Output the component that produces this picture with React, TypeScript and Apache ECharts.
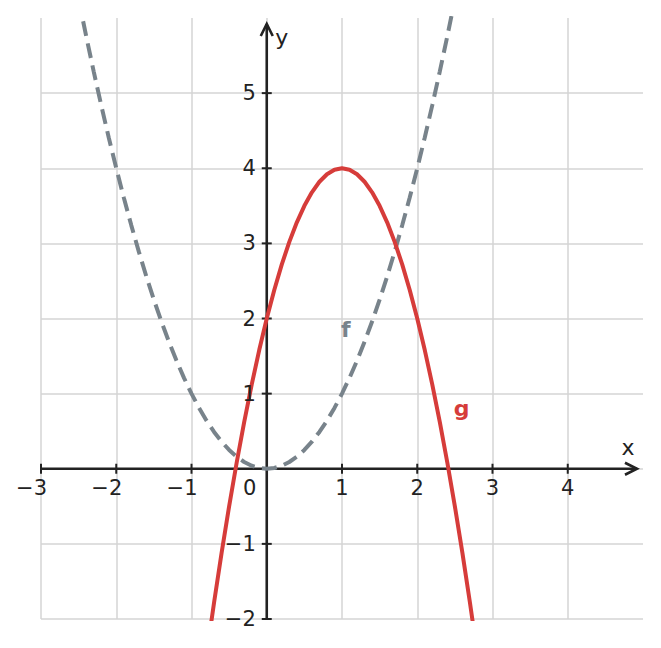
import React, { useEffect, useRef } from "react";
import * as echarts from "echarts";

// ---- data ----
const X_TICKS = [-3, -2, -1, 0, 1, 2, 3, 4];
const X_TICK_LABELS = ["−3", "−2", "−1", "0", "1", "2", "3", "4"];
const Y_TICKS = [-2, -1, 1, 2, 3, 4, 5];
const Y_TICK_LABELS = ["−2", "−1", "1", "2", "3", "4", "5"];

// f: dashed gray curve
const F_X = [-2.5, -2.4, -2.3, -2.2, -2.1, -2.0, -1.9, -1.8, -1.7, -1.6, -1.5, -1.4, -1.3, -1.2, -1.1, -1.0, -0.9, -0.8, -0.7, -0.6, -0.5, -0.4, -0.3, -0.2, -0.1, 0, 0.1, 0.2, 0.3, 0.4, 0.5, 0.6, 0.7, 0.8, 0.9, 1.0, 1.1, 1.2, 1.3, 1.4, 1.5, 1.6, 1.7, 1.8, 1.9, 2.0, 2.1, 2.2, 2.3, 2.4, 2.5];
const F_Y = [6.25, 5.76, 5.29, 4.84, 4.41, 4.0, 3.61, 3.24, 2.89, 2.56, 2.25, 1.96, 1.69, 1.44, 1.21, 1.0, 0.81, 0.64, 0.49, 0.36, 0.25, 0.16, 0.09, 0.04, 0.01, 0, 0.01, 0.04, 0.09, 0.16, 0.25, 0.36, 0.49, 0.64, 0.81, 1.0, 1.21, 1.44, 1.69, 1.96, 2.25, 2.56, 2.89, 3.24, 3.61, 4.0, 4.41, 4.84, 5.29, 5.76, 6.25];

// g: solid red curve
const G_X = [-0.8, -0.7, -0.6, -0.5, -0.4, -0.3, -0.2, -0.1, 0, 0.1, 0.2, 0.3, 0.4, 0.5, 0.6, 0.7, 0.8, 0.9, 1.0, 1.1, 1.2, 1.3, 1.4, 1.5, 1.6, 1.7, 1.8, 1.9, 2.0, 2.1, 2.2, 2.3, 2.4, 2.5, 2.6, 2.7, 2.8];
const G_Y = [-2.48, -1.78, -1.12, -0.5, 0.08, 0.62, 1.12, 1.58, 2.0, 2.38, 2.72, 3.02, 3.28, 3.5, 3.68, 3.82, 3.92, 3.98, 4.0, 3.98, 3.92, 3.82, 3.68, 3.5, 3.28, 3.02, 2.72, 2.38, 2.0, 1.58, 1.12, 0.62, 0.08, -0.5, -1.12, -1.78, -2.48];

const X_MIN = -3, X_MAX = 5, Y_MIN = -2, Y_MAX = 6;
const X_ARROW_END = 4.92;
const Y_ARROW_END = 5.92;

const CURVE_LABELS = [
  { name: "f", pos: [1.05, 1.85], color: "#78838b" },
  { name: "g", pos: [2.59, 0.8], color: "#d63c3a" },
];

const GRAY = "#78838b";
const RED = "#d63c3a";
const INK = "#222222";
const FONT = "DejaVu Sans";

export default function App() {
  const ref = useRef<HTMLDivElement>(null);

  useEffect(() => {
    if (!ref.current) return;
    const chart = echarts.init(ref.current, undefined, { renderer: "svg" });

    const axesRender = (params: any, api: any) => {
      const o = api.coord([0, 0]);
      const xs = api.coord([X_MIN, 0]);
      const xe = api.coord([X_ARROW_END, 0]);
      const ys = api.coord([0, Y_MIN]);
      const ye = api.coord([0, Y_ARROW_END]);
      const st = { stroke: INK, lineWidth: 2.6, fill: "none" };
      const children: any[] = [
        { type: "line", shape: { x1: xs[0], y1: o[1], x2: xe[0], y2: o[1] }, style: st },
        { type: "line", shape: { x1: o[0], y1: ys[1], x2: o[0], y2: ye[1] }, style: st },
        {
          type: "polyline",
          shape: { points: [[xe[0] - 12, o[1] - 6], [xe[0], o[1]], [xe[0] - 12, o[1] + 6]] },
          style: st,
        },
        {
          type: "polyline",
          shape: { points: [[o[0] - 6, ye[1] + 12], [o[0], ye[1]], [o[0] + 6, ye[1] + 12]] },
          style: st,
        },
      ];
      X_TICKS.forEach((v) => {
        if (v === 0) return;
        const p = api.coord([v, 0]);
        children.push({ type: "line", shape: { x1: p[0], y1: p[1] - 5, x2: p[0], y2: p[1] + 5 }, style: { stroke: INK, lineWidth: 2 } });
      });
      Y_TICKS.forEach((v) => {
        const p = api.coord([0, v]);
        children.push({ type: "line", shape: { x1: p[0] - 5, y1: p[1], x2: p[0] + 5, y2: p[1] }, style: { stroke: INK, lineWidth: 2 } });
      });
      return { type: "group", children };
    };

    const labelData: any[] = [];
    X_TICKS.forEach((v, i) => {
      const neg = v < 0;
      let offset = [0, 19];
      let align = "center";
      if (neg) { offset = [6, 19]; align = "right"; }
      if (v === 0) { offset = [-17, 19]; align = "center"; }
      labelData.push({
        value: [v, 0],
        label: { formatter: X_TICK_LABELS[i], align, offset },
      });
    });
    Y_TICKS.forEach((v, i) => {
      labelData.push({
        value: [0, v],
        label: { formatter: Y_TICK_LABELS[i], align: "right", offset: [-11, 0] },
      });
    });
    labelData.push({
      value: [X_ARROW_END, 0],
      label: { formatter: "x", align: "center", offset: [-9, -21], fontSize: 22 },
    });
    labelData.push({
      value: [0, Y_ARROW_END],
      label: { formatter: "y", align: "center", offset: [15, 13], fontSize: 22 },
    });
    CURVE_LABELS.forEach((c) => {
      labelData.push({
        value: c.pos,
        label: { formatter: c.name, align: "center", color: c.color, fontWeight: "bold", fontSize: 22 },
      });
    });

    chart.setOption({
      animation: false,
      backgroundColor: "#ffffff",
      grid: { left: 41, right: 18, top: 18, bottom: 29, containLabel: false },
      xAxis: {
        type: "value",
        min: X_MIN,
        max: X_MAX,
        interval: 1,
        axisLine: { show: false },
        axisTick: { show: false },
        axisLabel: { show: false },
        splitLine: { show: true, showMaxLine: false, lineStyle: { color: "#d4d4d4", width: 1.5 } },
      },
      yAxis: {
        type: "value",
        min: Y_MIN,
        max: Y_MAX,
        interval: 1,
        axisLine: { show: false },
        axisTick: { show: false },
        axisLabel: { show: false },
        splitLine: { show: true, showMaxLine: false, lineStyle: { color: "#d4d4d4", width: 1.5 } },
      },
      series: [
        {
          type: "custom",
          renderItem: axesRender,
          data: [[0, 0]],
          clip: false,
          silent: true,
          z: 2,
        },
        {
          type: "line",
          data: F_X.map((x, i) => [x, F_Y[i]]),
          showSymbol: false,
          symbol: "none",
          clip: true,
          lineStyle: { color: GRAY, width: 4, type: [15, 7.5] },
          z: 3,
          silent: true,
        },
        {
          type: "line",
          data: G_X.map((x, i) => [x, G_Y[i]]),
          showSymbol: false,
          symbol: "none",
          clip: true,
          lineStyle: { color: RED, width: 4 },
          z: 4,
          silent: true,
        },
        {
          type: "scatter",
          data: labelData,
          symbolSize: 0,
          itemStyle: { opacity: 1 },
          silent: true,
          clip: false,
          z: 5,
          label: {
            show: true,
            position: "inside",
            verticalAlign: "middle",
            fontFamily: FONT,
            fontSize: 21,
            color: INK,
          },
        },
      ],
    });

    return () => chart.dispose();
  }, []);

  return (
    <div
      ref={ref}
      style={{ position: "fixed", left: 0, top: 0, width: 661, height: 648 }}
    />
  );
}
